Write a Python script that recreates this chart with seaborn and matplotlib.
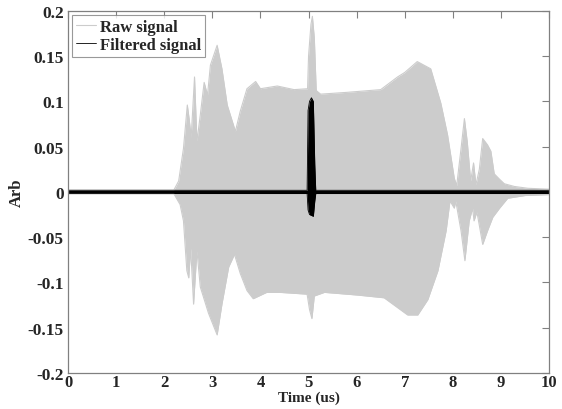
import numpy as np
import pandas as pd
import matplotlib
matplotlib.use("Agg")
import matplotlib.pyplot as plt
import seaborn as sns

# Raw signal envelope, time in us
raw_t = [0.0, 2.2, 2.3, 2.4, 2.48, 2.52, 2.56, 2.63, 2.68, 2.75, 2.83, 2.9, 2.96, 3.1, 3.2,
         3.31, 3.48, 3.58, 3.72, 3.9, 4.0, 4.35, 4.7, 4.98, 5.0, 5.05, 5.08, 5.12, 5.16,
         5.25, 5.8, 6.5, 6.85, 7.0, 7.26, 7.54, 7.75, 7.89, 8.03, 8.08, 8.17, 8.24, 8.3,
         8.37, 8.43, 8.48, 8.55, 8.62, 8.72, 8.79, 8.86, 8.97, 9.07, 9.28, 9.56, 10.0]
raw_hi = [0.002, 0.002, 0.012, 0.048, 0.096, 0.08, 0.06, 0.127, 0.056, 0.085, 0.121, 0.107,
          0.14, 0.162, 0.136, 0.096, 0.067, 0.089, 0.114, 0.122, 0.114, 0.117, 0.113, 0.114,
          0.15, 0.185, 0.194, 0.17, 0.112, 0.108, 0.11, 0.113, 0.127, 0.132, 0.144, 0.136,
          0.098, 0.063, 0.015, 0.007, 0.048, 0.081, 0.055, 0.012, 0.032, 0.008, 0.025, 0.059,
          0.052, 0.045, 0.02, 0.014, 0.009, 0.006, 0.004, 0.003]

raw_t_lo = [0.0, 2.2, 2.33, 2.4, 2.47, 2.51, 2.55, 2.61, 2.68, 2.75, 2.92, 3.1, 3.2, 3.34,
            3.46, 3.58, 3.72, 3.85, 4.13, 4.4, 4.97, 5.02, 5.07, 5.12, 5.33, 6.02, 6.57,
            7.06, 7.27, 7.48, 7.69, 7.86, 7.94, 8.03, 8.06, 8.17, 8.25, 8.34, 8.41, 8.44,
            8.5, 8.62, 8.72, 8.83, 8.97, 9.14, 9.5, 10.0]
raw_lo = [-0.002, -0.002, -0.014, -0.032, -0.087, -0.095, -0.062, -0.124, -0.065, -0.105,
          -0.134, -0.158, -0.124, -0.083, -0.069, -0.09, -0.109, -0.118, -0.111, -0.111,
          -0.113, -0.13, -0.14, -0.115, -0.111, -0.114, -0.117, -0.136, -0.136, -0.119,
          -0.087, -0.043, -0.01, -0.018, -0.01, -0.043, -0.076, -0.032, -0.018, -0.032,
          -0.022, -0.058, -0.043, -0.028, -0.018, -0.007, -0.004, -0.003]

# Filtered signal envelope
filt_t = [0.0, 4.97, 4.99, 5.02, 5.06, 5.1, 5.13, 5.15, 10.0]
filt_hi = [0.0018, 0.0018, 0.09, 0.1, 0.104, 0.1, 0.03, 0.0018, 0.0018]
filt_lo = [-0.0018, -0.0018, -0.02, -0.025, -0.026, -0.027, -0.01, -0.0018, -0.0018]

raw_color = "#cccccc"

sns.set_style("white")
plt.rcParams["font.family"] = ["Liberation Serif", "DejaVu Serif"]
plt.rcParams["font.weight"] = "bold"

fig = plt.figure(figsize=(5.62, 4.10), dpi=100)
ax = fig.add_axes([0.121, 0.088, 0.856, 0.883])

ax.fill_between(raw_t, raw_hi, 0, color=raw_color, lw=0)
ax.fill_between(raw_t_lo, raw_lo, 0, color=raw_color, lw=0)
sns.lineplot(x=raw_t, y=raw_hi, color=raw_color, lw=0.8, ax=ax, label="Raw signal")
sns.lineplot(x=raw_t_lo, y=raw_lo, color=raw_color, lw=0.8, ax=ax)

ax.fill_between(filt_t, filt_hi, filt_lo, color="black", lw=0)
sns.lineplot(x=filt_t, y=filt_hi, color="black", lw=0.6, ax=ax, label="Filtered signal")
sns.lineplot(x=filt_t, y=filt_lo, color="black", lw=0.6, ax=ax)

ax.set_xlim(0, 10)
ax.set_ylim(-0.2, 0.2)
ax.set_xticks(range(0, 11))
ax.set_yticks([-0.2, -0.15, -0.1, -0.05, 0, 0.05, 0.1, 0.15, 0.2])
ax.set_yticklabels(["-0.2", "-0.15", "-0.1", "-0.05", "0", "0.05", "0.1", "0.15", "0.2"])
ax.tick_params(direction="in", length=5, width=0.8, color="#808080", top=True, right=True,
               labelsize=12.5, pad=3)
ax.tick_params(axis="x", pad=1, labelsize=12)
for lab in ax.get_xticklabels() + ax.get_yticklabels():
    lab.set_fontweight("bold")
for sp in ax.spines.values():
    sp.set_color("#808080")
    sp.set_linewidth(0.9)

ax.set_xlabel("Time (us)", fontsize=11, fontweight="bold", labelpad=0)
ax.set_ylabel("Arb", fontsize=12, fontweight="bold", labelpad=2)

leg = ax.legend(loc="upper left", frameon=True, fancybox=False,
                handlelength=1.2, handletextpad=0.2, borderpad=0.25, labelspacing=0.1,
                borderaxespad=0.25, prop={"weight": "bold", "size": 12})
leg.get_frame().set_edgecolor("#808080")
leg.get_frame().set_linewidth(0.8)

fig.savefig("out.png", dpi=100)
